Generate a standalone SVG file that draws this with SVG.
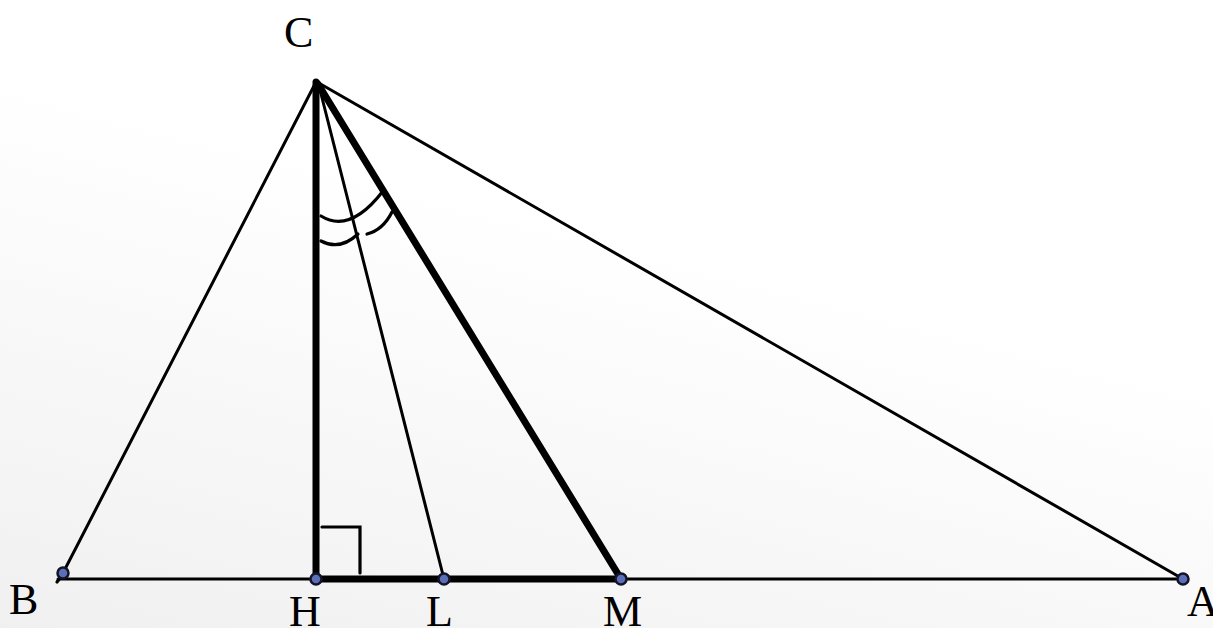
<svg xmlns="http://www.w3.org/2000/svg" width="1213" height="628" viewBox="0 0 1213 628">
<defs>
<linearGradient id="bg" x1="0" y1="1" x2="0.35" y2="0.3">
<stop offset="0" stop-color="#f0f0f0"/>
<stop offset="1" stop-color="#ffffff"/>
</linearGradient>
<style>
.thin{stroke:#000;stroke-width:3;fill:none;stroke-linecap:round}
.thick{stroke:#000;stroke-width:7;fill:none;stroke-linecap:round}
.arc{stroke:#000;stroke-width:3.2;fill:none;stroke-linecap:round}
.pt{fill:#5a6fb8;stroke:#141428;stroke-width:2.5}
.lbl{font-family:"Liberation Serif","Times New Roman",serif;font-size:44px;fill:#000}
</style>
</defs>
<rect width="1213" height="628" fill="url(#bg)"/>
<g id="connectors">
<line class="thin" x1="58" y1="579" x2="1183" y2="579"/>
<line class="thin" x1="63" y1="573" x2="316" y2="82"/>
<line class="thin" x1="317" y1="82" x2="1183" y2="579"/>
<line class="thin" x1="318" y1="82" x2="444" y2="579"/>
<line class="thick" x1="316" y1="82" x2="316" y2="579"/>
<line class="thick" x1="318" y1="84" x2="621" y2="579"/>
<line class="thick" x1="316" y1="579" x2="621" y2="579"/>
<path class="arc" d="M322,527 H360 V573"/>
<path class="arc" d="M321,216 Q350,234 383,191"/>
<path class="arc" d="M321,241 Q340,251 358,234"/>
<path class="arc" d="M367,234 Q383,230 392,212"/>
<path class="arc" d="M57,582 L60,578"/>
</g>
<g id="C"><text class="lbl" x="284" y="47">C</text></g>
<g id="B"><circle class="pt" cx="63" cy="573" r="5.5"/><text class="lbl" x="9" y="614">B</text></g>
<g id="H"><circle class="pt" cx="316" cy="579" r="5.5"/><text class="lbl" x="289" y="626">H</text></g>
<g id="L"><circle class="pt" cx="444" cy="579" r="5.5"/><text class="lbl" x="426" y="626">L</text></g>
<g id="M"><circle class="pt" cx="621" cy="579" r="5.5"/><text class="lbl" x="603" y="626">M</text></g>
<g id="A"><circle class="pt" cx="1183" cy="579" r="5.5"/><text class="lbl" x="1187" y="616">A</text></g>
</svg>
